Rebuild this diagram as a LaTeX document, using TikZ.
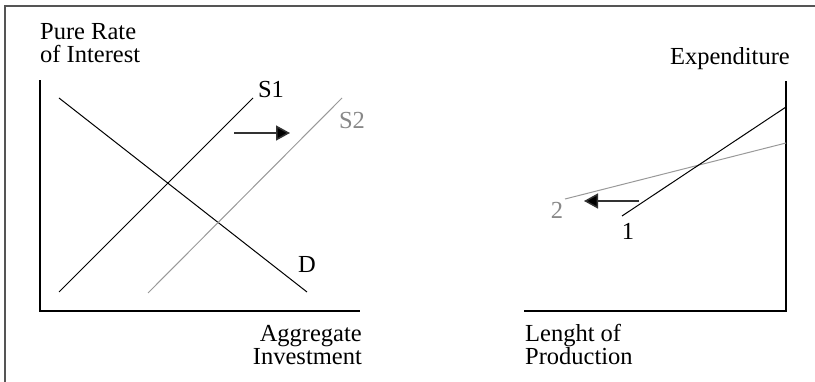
\documentclass[tikz,border=0pt]{standalone}
\usepackage{fontspec}
\setmainfont{Liberation Serif}
\usetikzlibrary{arrows.meta}
\definecolor{framegray}{HTML}{555555}
\definecolor{linegray}{HTML}{999999}
\definecolor{labelgray}{HTML}{888888}
\definecolor{shaft}{HTML}{333333}
\tikzset{
  x=1pt, y=-1pt,
  axis/.style={line width=2pt, line cap=rect},
  curveblack/.style={line width=1pt, black},
  curvegray/.style={line width=1pt, linegray},
  shiftarrow/.style={line width=1.5pt, shaft, -{Triangle[length=14pt,width=15pt,fill=black]}},
  lbl/.style={font=\fontsize{24.5}{27}\selectfont, inner sep=0pt},
}
\begin{document}
\begin{tikzpicture}
\useasboundingbox (0,0) rectangle (815,382);
% frame (cropped)
\draw[framegray, line width=1.2pt] (5,382) -- (5,6) -- (815,6);

% ---------- left panel ----------
\coordinate (Ltop) at (40,81);
\coordinate (Lorig) at (40,311);
\coordinate (Lend) at (359,311);
\draw[axis] (Ltop) -- (Lorig) -- (Lend);

\coordinate (Da) at (59,98);  \coordinate (Db) at (307,292);
\coordinate (S1a) at (59,292); \coordinate (S1b) at (253,98);
\coordinate (S2a) at (148,293); \coordinate (S2b) at (342,98);
\draw[curveblack] (Da) -- (Db);
\draw[curveblack] (S1a) -- (S1b);
\draw[curvegray] (S2a) -- (S2b);

\coordinate (A1s) at (234,133); \coordinate (A1e) at (290,133);
\draw[shiftarrow] (A1s) -- (A1e);

\node[lbl] (s1) at (271,90) {S1};
\node[lbl, text=labelgray] (s2) at (352,121) {S2};
\node[lbl] (d) at (307,265) {D};

\node[lbl, anchor=base west] (yl1) at (40,40) {Pure Rate};
\node[lbl, anchor=base west] (yl2) at (40,63) {of Interest};
\node[lbl, anchor=base east] (xl1) at (362,342) {Aggregate};
\node[lbl, anchor=base east] (xl2) at (362,365) {Investment};

% ---------- right panel ----------
\coordinate (Rtop) at (786,82);
\coordinate (Rorig) at (786,311);
\coordinate (Rend) at (525,311);
\draw[axis] (Rtop) -- (Rorig) -- (Rend);

\coordinate (L1a) at (622,216); \coordinate (L1b) at (786,107);
\coordinate (L2a) at (565,199); \coordinate (L2b) at (786,143);
\draw[curvegray] (L2a) -- (L2b);
\draw[curveblack] (L1a) -- (L1b);

\coordinate (A2s) at (639,201); \coordinate (A2e) at (584,201);
\draw[shiftarrow] (A2s) -- (A2e);

\node[lbl, text=labelgray] (two) at (557,210) {2};
\node[lbl] (one) at (628,231) {1};

\node[lbl, anchor=base east] (ry) at (790,65) {Expenditure};
\node[lbl, anchor=base west] (rx1) at (525,342) {Lenght of};
\node[lbl, anchor=base west] (rx2) at (525,365) {Production};
\end{tikzpicture}
\end{document}
